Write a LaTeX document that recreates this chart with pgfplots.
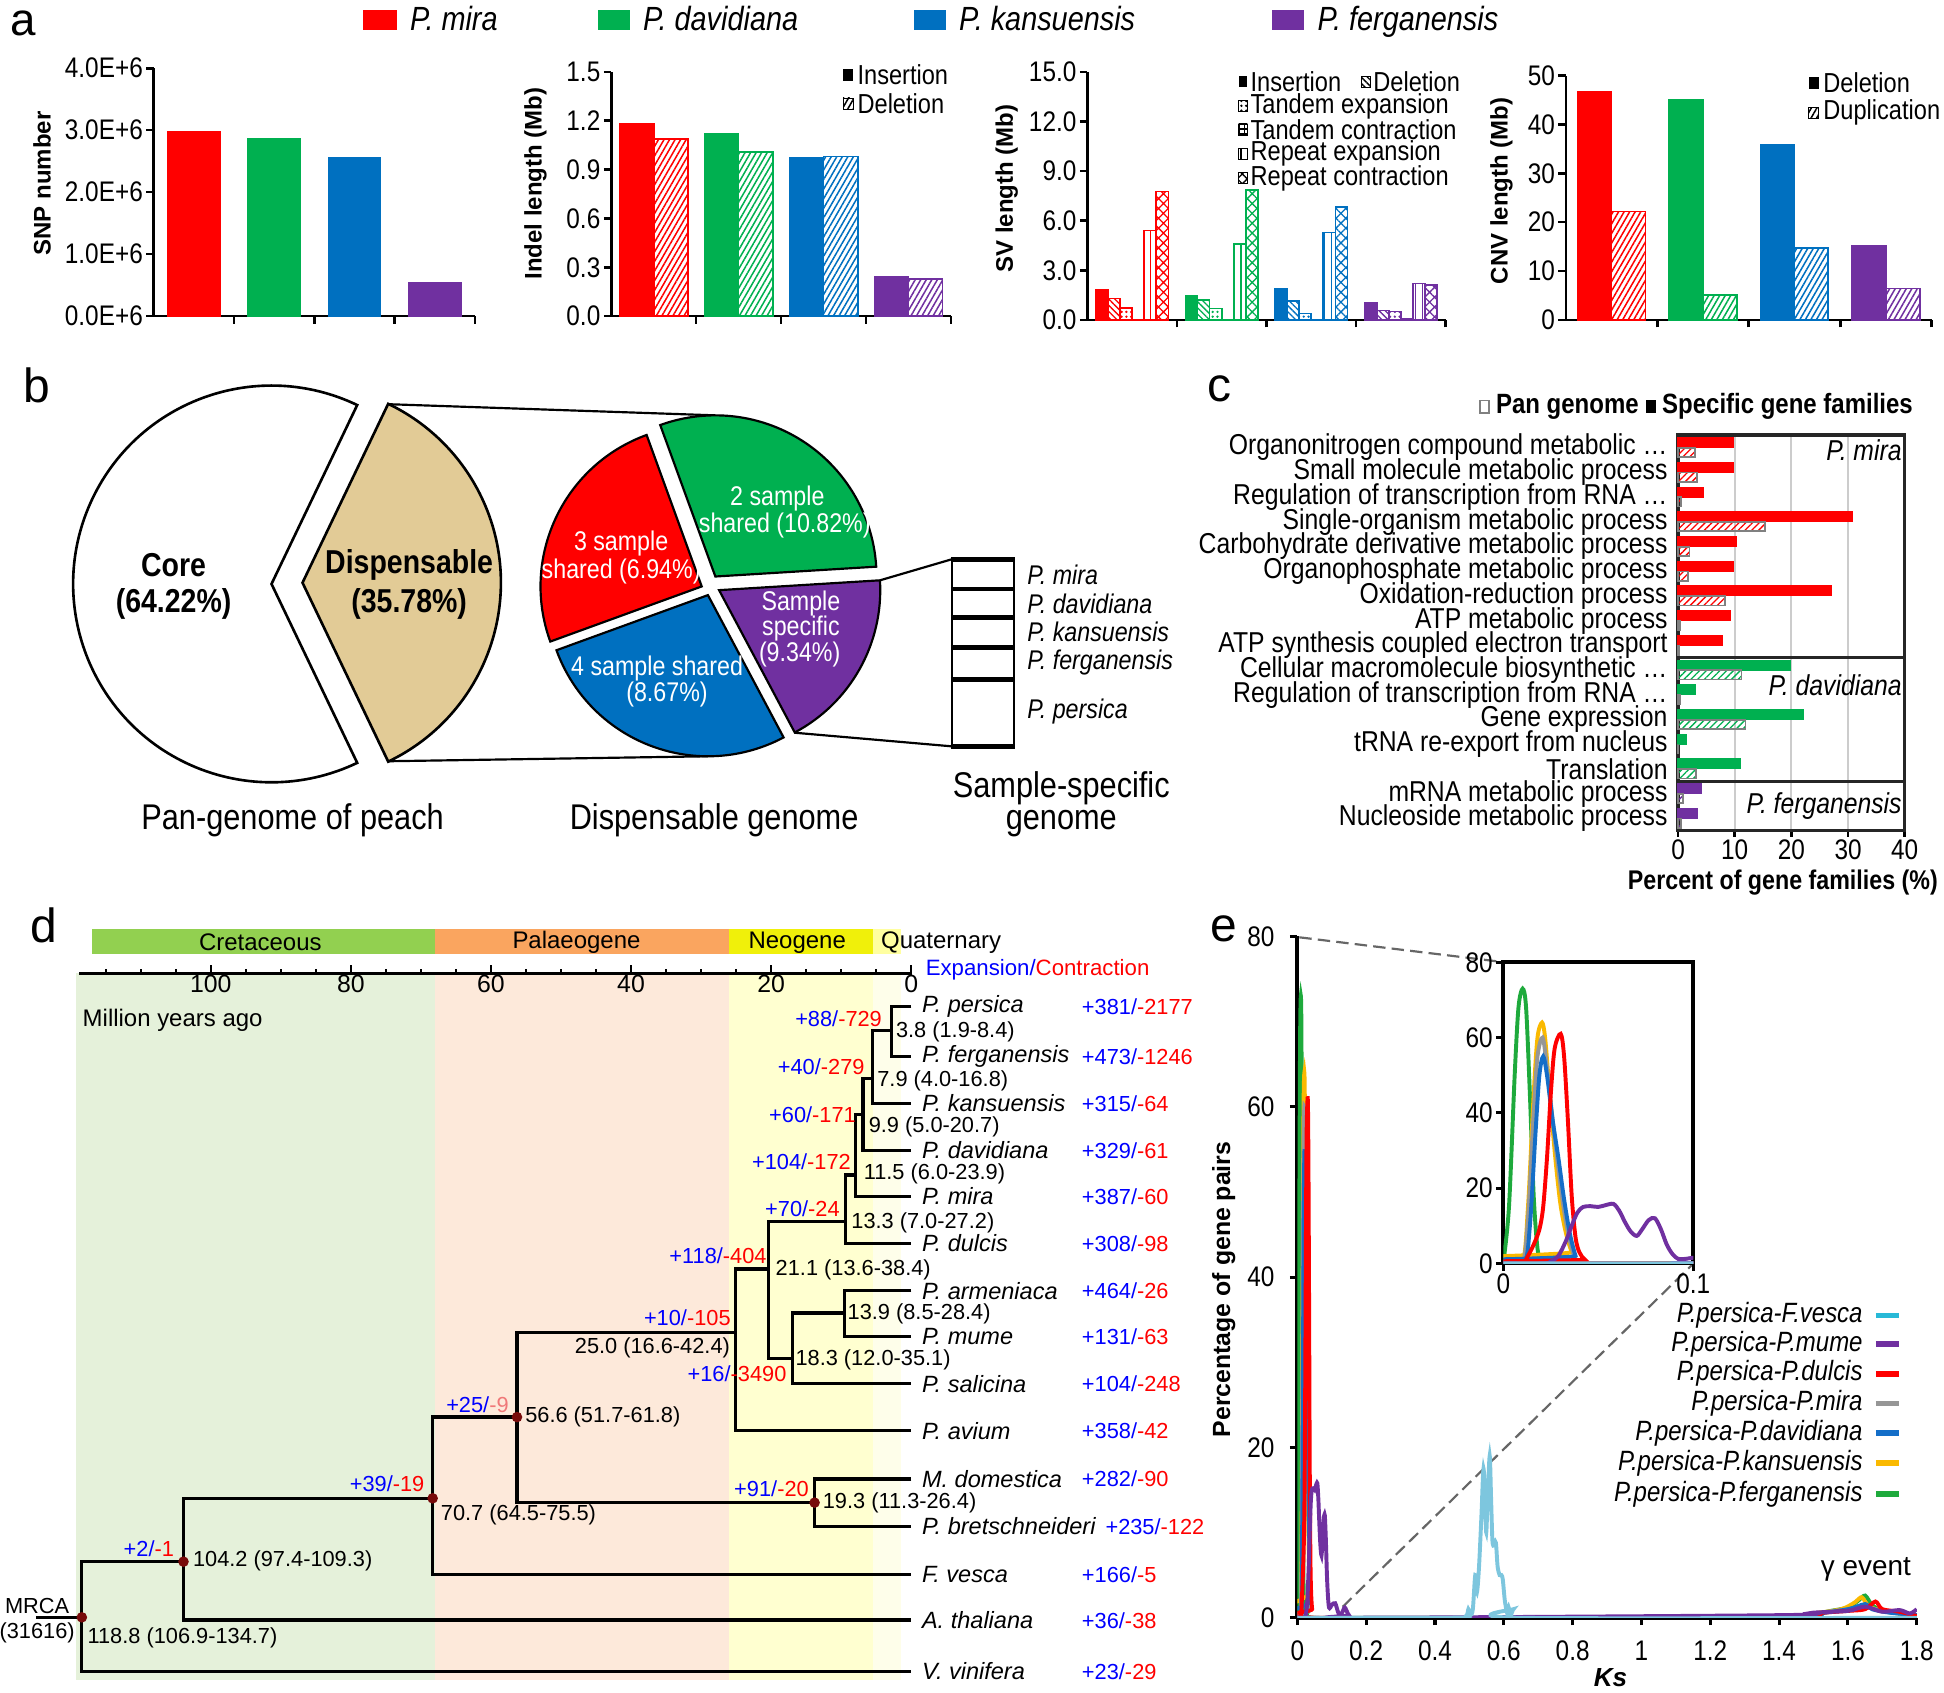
\documentclass[border=0pt]{standalone}
\usepackage{fontspec}
\setmainfont{Liberation Sans}
\newfontfamily\cf{Liberation Sans}[FakeStretch=0.86]
\usepackage{pgfplots}
\pgfplotsset{compat=1.18}
\usepackage{pgfplotstable}
\usetikzlibrary{patterns,patterns.meta}
\newcommand\fs[1]{\fontsize{#1}{#1}\selectfont}

\definecolor{cR}{RGB}{255,0,0}
\definecolor{cG}{RGB}{0,176,80}
\definecolor{cB}{RGB}{0,112,192}
\definecolor{cP}{RGB}{112,48,160}
\definecolor{cTan}{RGB}{226,203,150}
\definecolor{eC}{RGB}{125,198,222}
\definecolor{eCl}{RGB}{40,185,215}
\definecolor{eP}{RGB}{112,48,160}
\definecolor{eR}{RGB}{255,0,0}
\definecolor{eGr}{RGB}{150,150,150}
\definecolor{eB}{RGB}{20,110,200}
\definecolor{eO}{RGB}{250,185,0}
\definecolor{eG}{RGB}{30,170,60}
\definecolor{bgG}{RGB}{229,241,218}
\definecolor{bgO}{RGB}{253,233,218}
\definecolor{bgY}{RGB}{255,255,208}
\definecolor{bgQ}{RGB}{254,254,234}
\definecolor{gG}{RGB}{146,208,80}
\definecolor{gO}{RGB}{250,165,95}
\definecolor{gY}{RGB}{240,240,10}
\definecolor{gQ}{RGB}{255,255,160}
\definecolor{dotc}{RGB}{120,10,10}
\definecolor{tB}{RGB}{0,0,255}
\definecolor{tR}{RGB}{255,0,0}
\definecolor{tS}{RGB}{240,120,120}

\tikzset{
  patA/.style={pattern={Lines[angle=60,distance=1.1pt,line width=0.35pt]}},
  patDel/.style={pattern={Lines[angle=-45,distance=1.0pt,line width=0.3pt]}},
  patTE/.style={pattern={Dots[distance=1.1pt,radius=0.3pt]}},
  patTC/.style={pattern={Hatch[angle=0,distance=1.2pt,line width=0.3pt]}},
  patRE/.style={pattern={Lines[angle=90,distance=1.6pt,line width=0.35pt]}},
  patRC/.style={pattern={Hatch[angle=45,distance=1.6pt,line width=0.3pt]}},
  patC/.style={pattern={Lines[angle=45,distance=1.1pt,line width=0.3pt]}},
}

\pgfplotsset{
  every axis/.append style={/pgf/number format/assume math mode=true},
  abar/.style={scale only axis, axis x line*=bottom, axis y line*=left,
    axis line style={-,line width=0.6pt}, xmin=0.5, xmax=4.5, ymin=0,
    xtick={1.5,2.5,3.5,4.5}, xticklabels={,,,}, tick align=outside,
    major tick length=0.6mm, ybar, tick style={line width=0.6pt,black},
    ticklabel style={font=\cf\fs{6.5},inner sep=0.6pt}, clip=false},
}

% ---------- panel c data (specific, pan) ----------
\pgfplotstableread{
idx spec pan
0 9.7 3.0
1 9.7 3.4
2 4.5 0.5
3 30.8 15.3
4 10.3 2.0
5 9.7 1.7
6 27.0 8.3
7 9.1 0.3
8 7.8 0.1
}\tCmira
\pgfplotstableread{
idx spec pan
9 19.7 11.2
10 3.0 0.4
11 22.0 11.9
12 1.5 0.0
13 11.0 3.1
}\tCdav
\pgfplotstableread{
idx spec pan
14 4.0 0.9
15 3.3 0.5
}\tCfer

% ---------- panel e data ----------
\pgfplotstableread{
ks p
0 0
0.003 15
0.006 50
0.008 68
0.0102 73
0.012 68
0.014 45
0.016 18
0.018 4
0.020 1
0.024 0.6
0.028 1.8
0.031 2.0
0.034 1.0
0.038 0
0.2 0
1.4 0
1.5 0.4
1.55 0.8
1.6 1.2
1.63 2.0
1.65 2.6
1.67 1.5
1.7 0.8
1.75 0.5
1.8 0.3
}\tG
\pgfplotstableread{
ks p
0 0
0.010 0
0.013 15
0.016 45
0.018 60
0.0204 64
0.022 60
0.024 48
0.027 30
0.030 16
0.033 8
0.036 3
0.039 0
1.4 0
1.5 0.5
1.58 1.0
1.62 1.8
1.64 2.4
1.66 1.4
1.7 0.8
1.8 0.2
}\tO
\pgfplotstableread{
ks p
0 0
0.010 0
0.013 12
0.016 40
0.018 55
0.0207 60
0.023 52
0.026 38
0.029 25
0.032 14
0.035 6
0.038 1
0.040 0
1.4 0
1.5 0.5
1.6 1.0
1.64 1.3
1.68 1.0
1.75 0.6
1.8 0.3
}\tGr
\pgfplotstableread{
ks p
0 0
0.011 0
0.014 10
0.017 35
0.019 50
0.021 55
0.023 50
0.026 38
0.029 28
0.032 17
0.035 8
0.038 2
0.040 0
1.4 0
1.5 0.4
1.6 1.0
1.65 1.6
1.67 1.0
1.72 0.6
1.8 0.3
}\tB
\pgfplotstableread{
ks p
0 0
0.010 0
0.013 2
0.016 5
0.019 9
0.021 15
0.023 28
0.025 45
0.027 57
0.0302 61
0.032 55
0.034 38
0.036 18
0.038 7
0.040 3
0.043 1
0.048 0
1.4 0
1.5 0.5
1.6 0.8
1.65 1.0
1.68 1.9
1.7 1.0
1.75 0.7
1.8 0.2
}\tR
\pgfplotstableread{
ks p
0 0
0.021 0
0.025 0.5
0.029 2
0.033 6
0.036 10
0.039 13.5
0.042 15
0.046 15.2
0.050 15
0.054 15.5
0.058 15.8
0.061 14
0.064 11
0.067 8.5
0.0702 7.3
0.073 9
0.0765 11.5
0.0798 12
0.083 9
0.086 5
0.089 2.5
0.092 1.2
0.096 1.2
0.100 1.5
0.11 1.7
0.12 0.5
0.13 0.6
0.138 1.2
0.15 0.3
0.17 0
1.4 0.3
1.5 0.6
1.6 0.8
1.65 1.3
1.7 0.7
1.75 0.9
1.78 0.5
1.8 1.0
}\tP
\pgfplotstableread{
ks p
0 0
0.45 0
0.49 0.2
0.497 1.0
0.503 0.3
0.51 1.0
0.517 5
0.522 3
0.528 6
0.535 12
0.541 17.5
0.546 13
0.549 10
0.553 14
0.559 19
0.563 14
0.567 9
0.572 8.5
0.577 8.8
0.582 6
0.588 5
0.593 5
0.597 4.5
0.603 2
0.61 0.5
0.614 1.2
0.62 0.3
0.628 1
0.635 0
1.8 0
}\tC

\newcommand\svbars[8]{%
  \addplot[fill=#1,draw=#1,bar shift=-2.4375mm] coordinates {(#2,#3)};
  \addplot[draw=#1,patDel,pattern color=#1,bar shift=-1.4625mm] coordinates {(#2,#4)};
  \addplot[draw=#1,patTE,pattern color=#1,bar shift=-0.4875mm] coordinates {(#2,#5)};
  \addplot[draw=#1,patTC,pattern color=#1,bar shift=0.4875mm] coordinates {(#2,#6)};
  \addplot[draw=#1,patRE,pattern color=#1,bar shift=1.4625mm] coordinates {(#2,#7)};
  \addplot[draw=#1,patRC,pattern color=#1,bar shift=2.4375mm] coordinates {(#2,#8)};
}
\newcommand\ecurves{%
  \addplot[eG,line width=0.9pt,smooth,no markers] table[x=ks,y=p]{\tG};
  \addplot[eO,line width=0.9pt,smooth,no markers] table[x=ks,y=p]{\tO};
  \addplot[eGr,line width=0.9pt,smooth,no markers] table[x=ks,y=p]{\tGr};
  \addplot[eB,line width=0.9pt,smooth,no markers] table[x=ks,y=p]{\tB};
  \addplot[eR,line width=0.9pt,smooth,no markers] table[x=ks,y=p]{\tR};
  \addplot[eP,line width=0.9pt,smooth,no markers] table[x=ks,y=p]{\tP};
  \addplot[eC,line width=0.9pt,smooth,no markers] table[x=ks,y=p]{\tC};
}

\begin{document}
\begin{tikzpicture}
\useasboundingbox (0,0) rectangle (156.8mm,-136.5mm);

% ================= PANEL A =================
\begin{axis}[abar, at={(12.4mm,-25.5mm)}, anchor=south west, width=25.9mm, height=20mm,
  ymax=4000000, ytick={0,1000000,2000000,3000000,4000000},
  yticklabels={0.0E+6,1.0E+6,2.0E+6,3.0E+6,4.0E+6}, scaled y ticks=false, bar width=4.2mm]
\addplot[fill=cR,draw=cR,bar shift=0pt] coordinates {(1,2970000)};
\addplot[fill=cG,draw=cG,bar shift=0pt] coordinates {(2,2860000)};
\addplot[fill=cB,draw=cB,bar shift=0pt] coordinates {(3,2550000)};
\addplot[fill=cP,draw=cP,bar shift=0pt] coordinates {(4,530000)};
\end{axis}

\begin{axis}[abar, at={(49.3mm,-25.5mm)}, anchor=south west, width=27.4mm, height=19.7mm,
  ymax=1.5, ytick={0,0.3,0.6,0.9,1.2,1.5},
  yticklabel style={/pgf/number format/.cd,fixed,fixed zerofill,precision=1}, bar width=2.75mm]
\addplot[fill=cR,draw=cR,bar shift=-1.375mm] coordinates {(1,1.18)};
\addplot[draw=cR,patA,pattern color=cR,bar shift=1.375mm] coordinates {(1,1.09)};
\addplot[fill=cG,draw=cG,bar shift=-1.375mm] coordinates {(2,1.12)};
\addplot[draw=cG,patA,pattern color=cG,bar shift=1.375mm] coordinates {(2,1.01)};
\addplot[fill=cB,draw=cB,bar shift=-1.375mm] coordinates {(3,0.97)};
\addplot[draw=cB,patA,pattern color=cB,bar shift=1.375mm] coordinates {(3,0.98)};
\addplot[fill=cP,draw=cP,bar shift=-1.375mm] coordinates {(4,0.24)};
\addplot[draw=cP,patA,pattern color=cP,bar shift=1.375mm] coordinates {(4,0.23)};
\end{axis}

\begin{axis}[abar, at={(87.7mm,-25.8mm)}, anchor=south west, width=28.9mm, height=20.0mm,
  ymax=15, ytick={0,3,6,9,12,15},
  yticklabel style={/pgf/number format/.cd,fixed,fixed zerofill,precision=1}, bar width=0.975mm]
\svbars{cR}{1}{1.79}{1.29}{0.73}{0.02}{5.40}{7.76}
\svbars{cG}{2}{1.47}{1.19}{0.69}{0.02}{4.60}{7.86}
\svbars{cB}{3}{1.90}{1.13}{0.38}{0.02}{5.28}{6.85}
\svbars{cP}{4}{1.00}{0.56}{0.50}{0.06}{2.20}{2.12}
\end{axis}

\begin{axis}[abar, at={(126.3mm,-25.8mm)}, anchor=south west, width=29.5mm, height=19.7mm,
  ymax=50, ytick={0,10,20,30,40,50}, bar width=2.73mm]
\addplot[fill=cR,draw=cR,bar shift=-1.365mm] coordinates {(1,46.7)};
\addplot[draw=cR,patA,pattern color=cR,bar shift=1.365mm] coordinates {(1,22.2)};
\addplot[fill=cG,draw=cG,bar shift=-1.365mm] coordinates {(2,45.0)};
\addplot[draw=cG,patA,pattern color=cG,bar shift=1.365mm] coordinates {(2,5.1)};
\addplot[fill=cB,draw=cB,bar shift=-1.365mm] coordinates {(3,35.8)};
\addplot[draw=cB,patA,pattern color=cB,bar shift=1.365mm] coordinates {(3,14.7)};
\addplot[fill=cP,draw=cP,bar shift=-1.365mm] coordinates {(4,15.1)};
\addplot[draw=cP,patA,pattern color=cP,bar shift=1.365mm] coordinates {(4,6.4)};
\end{axis}

\begin{scope}[x=1mm,y=1mm]
\node[anchor=base west,inner sep=0pt,font=\fs{10.5}] at (0.8,-2.9) {a};
\fill[cR] (29.3,-0.8) rectangle (32.0,-2.4);
\node[anchor=base west,inner sep=0pt,font=\cf\itshape\fs{7.7}] at (33.0,-2.45) {P. mira};
\fill[cG] (48.2,-0.8) rectangle (50.8,-2.4);
\node[anchor=base west,inner sep=0pt,font=\cf\itshape\fs{7.7}] at (51.8,-2.45) {P. davidiana};
\fill[cB] (73.7,-0.8) rectangle (76.3,-2.4);
\node[anchor=base west,inner sep=0pt,font=\cf\itshape\fs{7.7}] at (77.3,-2.45) {P. kansuensis};
\fill[cP] (102.6,-0.8) rectangle (105.2,-2.4);
\node[anchor=base west,inner sep=0pt,font=\cf\itshape\fs{7.7}] at (106.2,-2.45) {P. ferganensis};

\node[rotate=90,font=\bfseries\fs{5.5}] at (3.4,-14.8) {SNP number};
\node[rotate=90,font=\bfseries\fs{5.5}] at (43.2,-14.8) {Indel length (Mb)};
\node[rotate=90,font=\bfseries\fs{5.5}] at (81.2,-15.2) {SV length (Mb)};
\node[rotate=90,font=\bfseries\fs{5.5}] at (121.1,-15.4) {CNV length (Mb)};

% indel legend
\fill[black] (68.0,-5.6) rectangle (68.8,-6.5);
\node[anchor=west,inner sep=0pt,font=\cf\fs{6.3}] at (69.1,-6.05) {Insertion};
\draw[black,line width=0.2pt,patA,pattern color=black] (68.0,-7.9) rectangle (68.8,-8.8);
\node[anchor=west,inner sep=0pt,font=\cf\fs{6.3}] at (69.1,-8.35) {Deletion};
% SV legend
\fill[black] (99.9,-6.15) rectangle (100.6,-7.05);
\node[anchor=west,inner sep=0pt,font=\cf\fs{6.3}] at (100.8,-6.6) {Insertion};
\draw[black,line width=0.2pt,patDel,pattern color=black] (109.8,-6.15) rectangle (110.5,-7.05);
\node[anchor=west,inner sep=0pt,font=\cf\fs{6.3}] at (110.7,-6.6) {Deletion};
\draw[black,line width=0.2pt,patTE,pattern color=black] (99.9,-8.1) rectangle (100.6,-9.0);
\node[anchor=west,inner sep=0pt,font=\cf\fs{6.3}] at (100.8,-8.55) {Tandem expansion};
\draw[black,line width=0.2pt,patTC,pattern color=black] (99.9,-10.0) rectangle (100.6,-10.9);
\node[anchor=west,inner sep=0pt,font=\cf\fs{6.3}] at (100.8,-10.45) {Tandem contraction};
\draw[black,line width=0.2pt,patRE,pattern color=black] (99.9,-11.95) rectangle (100.6,-12.85);
\node[anchor=west,inner sep=0pt,font=\cf\fs{6.3}] at (100.8,-12.4) {Repeat expansion};
\draw[black,line width=0.2pt,patRC,pattern color=black] (99.9,-13.9) rectangle (100.6,-14.8);
\node[anchor=west,inner sep=0pt,font=\cf\fs{6.3}] at (100.8,-14.35) {Repeat contraction};
% CNV legend
\fill[black] (145.9,-6.25) rectangle (146.7,-7.15);
\node[anchor=west,inner sep=0pt,font=\cf\fs{6.3}] at (147.0,-6.7) {Deletion};
\draw[black,line width=0.2pt,patA,pattern color=black] (145.9,-8.65) rectangle (146.7,-9.55);
\node[anchor=west,inner sep=0pt,font=\cf\fs{6.3}] at (147.0,-9.1) {Duplication};

% ================= PANEL B =================
\node[anchor=base west,inner sep=0pt,font=\fs{11}] at (1.8,-32.5) {b};
\filldraw[fill=white,draw=black,line width=0.6pt] (21.9,-47.1) -- ++({35.78*1.8}:16)
   arc[start angle={35.78*1.8},end angle={360-35.78*1.8},radius=16] -- cycle;
\filldraw[fill=cTan,draw=black,line width=0.6pt] (24.4,-47.0) -- ++({-35.78*1.8}:16)
   arc[start angle={-35.78*1.8},end angle={35.78*1.8},radius=16] -- cycle;
\node[font=\cf\bfseries\fs{7.6}] at (14.0,-45.6) {Core};
\node[font=\cf\bfseries\fs{7.6}] at (14.0,-48.7) {(64.22\%)};
\node[font=\cf\bfseries\fs{7.6}] at (33.0,-45.6) {Dispensable};
\node[font=\cf\bfseries\fs{7.6}] at (33.0,-48.7) {(35.78\%)};
% connectors
\draw[line width=0.5pt] (31.3,-32.6) -- (57.7,-33.5);
\draw[line width=0.5pt] (31.3,-61.4) -- (57.1,-61.0);
% dispensable pie
\filldraw[fill=cG,draw=black,line width=0.5pt] (57.7,-46.5) -- ++(3.5:13) arc[start angle=3.5,end angle=110,radius=13] -- cycle;
\filldraw[fill=cR,draw=black,line width=0.5pt] (56.6,-47.3) -- ++(110:13) arc[start angle=110,end angle=200,radius=13] -- cycle;
\filldraw[fill=cB,draw=black,line width=0.5pt] (57.1,-48.0) -- ++(200:13) arc[start angle=200,end angle=298,radius=13] -- cycle;
\filldraw[fill=cP,draw=black,line width=0.5pt] (58.0,-47.6) -- ++(298:13) arc[start angle=298,end angle=363.5,radius=13] -- cycle;
\node[white,font=\cf\fs{6.2}] at (50.1,-43.8) {3 sample};
\node[white,font=\cf\fs{6.2}] at (50.1,-46.1) {shared (6.94\%)};
\node[white,font=\cf\fs{6.2}] at (62.7,-40.2) {2 sample};
\node[white,font=\cf\fs{6.2}] at (63.3,-42.4) {shared (10.82\%)};
\node[white,font=\cf\fs{6.2}] at (64.6,-48.7) {Sample};
\node[white,font=\cf\fs{6.2}] at (64.6,-50.7) {specific};
\node[white,font=\cf\fs{6.2}] at (64.5,-52.8) {(9.34\%)};
\node[white,font=\cf\fs{6.2}] at (53.0,-53.9) {4 sample shared};
\node[white,font=\cf\fs{6.2}] at (53.8,-56.0) {(8.67\%)};
% to box
\draw[line width=0.5pt] (71.0,-46.8) -- (76.8,-45.1);
\draw[line width=0.5pt] (64.1,-59.1) -- (76.8,-60.2);
\draw[line width=0.6pt] (76.8,-45.1) -- (76.8,-60.2);
\draw[line width=0.6pt] (81.8,-45.1) -- (81.8,-60.2);
\foreach \yy in {45.1,47.5,49.8,52.2,54.8,60.2} \draw[line width=1.1pt] (76.7,-\yy) -- (81.9,-\yy);
\node[anchor=west,inner sep=0pt,font=\cf\itshape\fs{6.2}] at (82.8,-46.4) {P. mira};
\node[anchor=west,inner sep=0pt,font=\cf\itshape\fs{6.2}] at (82.8,-48.7) {P. davidiana};
\node[anchor=west,inner sep=0pt,font=\cf\itshape\fs{6.2}] at (82.8,-51.0) {P. kansuensis};
\node[anchor=west,inner sep=0pt,font=\cf\itshape\fs{6.2}] at (82.8,-53.4) {P. ferganensis};
\node[anchor=west,inner sep=0pt,font=\cf\itshape\fs{6.2}] at (82.8,-57.4) {P. persica};
\node[anchor=base,inner sep=0pt,font=\cf\fs{8.2}] at (23.6,-66.9) {Pan-genome of peach};
\node[anchor=base,inner sep=0pt,font=\cf\fs{8.2}] at (57.6,-66.9) {Dispensable genome};
\node[anchor=base,inner sep=0pt,align=center,font=\cf\fontsize{8.2}{7.3}\selectfont] at (85.6,-66.9) {Sample-specific\\genome};

% ================= PANEL C labels =================
\node[anchor=base west,inner sep=0pt,font=\fs{11}] at (97.3,-32.4) {c};
\draw[gray,line width=0.4pt] (119.35,-32.3) rectangle (120.1,-33.3);
\node[anchor=west,inner sep=0pt,font=\cf\bfseries\fs{6.4}] at (120.6,-32.8) {Pan genome};
\fill[black] (132.8,-32.3) rectangle (133.6,-33.3);
\node[anchor=west,inner sep=0pt,font=\cf\bfseries\fs{6.4}] at (134.0,-32.8) {Specific gene families};
\node[font=\cf\bfseries\fs{6.2}] at (143.8,-71.2) {Percent of gene families (\%)};
\end{scope}

% ================= PANEL C axis =================
\begin{axis}[at={(135.35mm,-67.0mm)}, anchor=south west, scale only axis,
  width=18.28mm, height=31.9mm, xmin=0, xmax=40, ymin=-0.5, ymax=15.5, y dir=reverse,
  xbar, bar width=0.75mm, xtick={0,10,20,30,40}, xtick pos=left,
  ytick={0,...,15}, ytick style={draw=none},
  yticklabels={{Organonitrogen compound metabolic …},{Small molecule metabolic process},
   {Regulation of transcription from RNA …},{Single-organism metabolic process},
   {Carbohydrate derivative metabolic process},{Organophosphate metabolic process},
   {Oxidation-reduction process},{ATP metabolic process},{ATP synthesis coupled electron transport},
   {Cellular macromolecule biosynthetic …},{Regulation of transcription from RNA …},
   {Gene expression},{tRNA re-export from nucleus},{Translation},
   {mRNA metabolic process},{Nucleoside metabolic process}},
  tick align=outside, major tick length=0.5mm, xtick style={line width=0.6pt,black},
  xmajorgrids, grid style={gray!40,line width=0.5pt},
  axis line style={line width=0.8pt,black!85},
  xticklabel style={font=\cf\fs{6.5},inner sep=0.4pt}, yticklabel style={font=\cf\fs{6.6},inner sep=0.8pt},
  clip=false]
\addplot[fill=cR,draw=cR,bar shift=0pt] table[x=spec,y expr=\thisrow{idx}-0.2]{\tCmira};
\addplot[draw=gray,patC,pattern color=cR,bar shift=0pt] table[x=pan,y expr=\thisrow{idx}+0.2]{\tCmira};
\addplot[fill=cG,draw=cG,bar shift=0pt] table[x=spec,y expr=\thisrow{idx}-0.2]{\tCdav};
\addplot[draw=gray,patC,pattern color=cG,bar shift=0pt] table[x=pan,y expr=\thisrow{idx}+0.2]{\tCdav};
\addplot[fill=cP,draw=cP,bar shift=0pt] table[x=spec,y expr=\thisrow{idx}-0.2]{\tCfer};
\addplot[draw=gray,patC,pattern color=cP,bar shift=0pt] table[x=pan,y expr=\thisrow{idx}+0.2]{\tCfer};
\draw[line width=0.8pt,black!85] (axis cs:0,8.5) -- (axis cs:40,8.5);
\draw[line width=0.8pt,black!85] (axis cs:0,13.5) -- (axis cs:40,13.5);
\node[anchor=east,inner sep=0pt,font=\cf\itshape\fs{6.6}] at (axis cs:39.6,0.1) {P. mira};
\node[anchor=east,inner sep=0pt,font=\cf\itshape\fs{6.6}] at (axis cs:39.6,9.6) {P. davidiana};
\node[anchor=east,inner sep=0pt,font=\cf\itshape\fs{6.6}] at (axis cs:39.6,14.5) {P. ferganensis};
\end{axis}

% ================= PANEL D =================
\begin{axis}[at={(6.1mm,-74.8mm)}, anchor=north west, scale only axis, width=67.4mm, height=61.0mm,
  xmin=0, xmax=119.29, x dir=reverse, ymin=748, ymax=1358, y dir=reverse, hide axis, clip=false]
\fill[bgG] (axis cs:119.29,784.5) rectangle (axis cs:67.96,1355);
\fill[bgO] (axis cs:67.96,784.5) rectangle (axis cs:26.0,1355);
\fill[bgY] (axis cs:26.0,784.5) rectangle (axis cs:5.49,1355);
\fill[bgQ] (axis cs:5.49,784.5) rectangle (axis cs:1.42,1355);
\fill[gG] (axis cs:117.0,749.5) rectangle (axis cs:67.96,769.7);
\fill[gO] (axis cs:67.96,749.5) rectangle (axis cs:26.0,769.7);
\fill[gY] (axis cs:26.0,749.5) rectangle (axis cs:5.49,769.7);
\fill[gQ] (axis cs:5.49,749.5) rectangle (axis cs:1.42,769.7);
\node[font=\fs{5.5}] at (axis cs:92.92,760) {Cretaceous};
\node[font=\fs{5.5}] at (axis cs:47.79,760) {Palaeogene};
\node[font=\fs{5.5}] at (axis cs:16.28,760) {Neogene};
\node[anchor=west,inner sep=0pt,font=\fs{5.5}] at (axis cs:4.42,760) {Quaternary};
\node[anchor=west,inner sep=0pt,font=\fs{5.5}] at (axis cs:118.4,823) {Million years ago};
\node[anchor=west,inner sep=0pt,font=\fs{5.1}] at (axis cs:-1.95,782) {\textcolor{tB}{Expansion/}\textcolor{tR}{Contraction}};
% tree
\addplot[black,line width=0.75pt] coordinates {(0,812) (2.83,812) (2.83,852) (0,852)};
\addplot[black,line width=0.75pt] coordinates {(2.83,831) (5.49,831) (5.49,890) (0,890)};
\addplot[black,line width=0.75pt] coordinates {(5.49,869.6) (6.9,869.6) (6.9,928) (0,928)};
\addplot[black,line width=0.75pt] coordinates {(6.9,899) (7.96,899) (7.96,965) (0,965)};
\addplot[black,line width=0.75pt] coordinates {(7.96,947.8) (9.38,947.8) (9.38,1003) (0,1003)};
\addplot[black,line width=0.75pt] coordinates {(0,1041) (9.56,1041) (9.56,1078) (0,1078)};
\addplot[black,line width=0.75pt] coordinates {(9.56,1059) (16.99,1059) (16.99,1116) (0,1116)};
\addplot[black,line width=0.75pt] coordinates {(9.38,985.4) (20.35,985.4) (20.35,1095.6) (16.99,1095.6)};
\addplot[black,line width=0.75pt] coordinates {(20.35,1023.5) (25.13,1023.5) (25.13,1154) (0,1154)};
\addplot[black,line width=0.75pt] coordinates {(0,1193) (13.8,1193) (13.8,1231) (0,1231)};
\addplot[black,line width=0.75pt] coordinates {(25.13,1074.6) (56.28,1074.6) (56.28,1212) (13.8,1212)};
\addplot[black,line width=0.75pt] coordinates {(56.28,1143) (68.32,1143) (68.32,1270) (0,1270)};
\addplot[black,line width=0.75pt] coordinates {(68.32,1208.5) (103.89,1208.5) (103.89,1306.7) (0,1306.7)};
\addplot[black,line width=0.75pt] coordinates {(103.89,1259.6) (118.4,1259.6) (118.4,1348) (0,1348)};
\addplot[black,line width=0.75pt] coordinates {(124.96,1304.5) (118.4,1304.5)};
\addplot[only marks,mark=*,mark size=1pt,color=dotc] coordinates {(56.28,1143) (68.32,1208.5) (13.8,1212) (103.89,1259.6) (118.4,1304.5)};
% node labels
\node[anchor=west,inner sep=0pt,font=\fs{5.0}] at (axis cs:2.30,832) {3.8 (1.9-8.4)};
\node[anchor=west,inner sep=0pt,font=\fs{5.0}] at (axis cs:4.96,872) {7.9 (4.0-16.8)};
\node[anchor=west,inner sep=0pt,font=\fs{5.0}] at (axis cs:6.19,909) {9.9 (5.0-20.7)};
\node[anchor=west,inner sep=0pt,font=\fs{5.0}] at (axis cs:6.90,947) {11.5 (6.0-23.9)};
\node[anchor=west,inner sep=0pt,font=\fs{5.0}] at (axis cs:8.67,986) {13.3 (7.0-27.2)};
\node[anchor=west,inner sep=0pt,font=\fs{5.0}] at (axis cs:19.47,1024) {21.1 (13.6-38.4)};
\node[anchor=west,inner sep=0pt,font=\fs{5.0}] at (axis cs:48.14,1087) {25.0 (16.6-42.4)};
\node[anchor=west,inner sep=0pt,font=\fs{5.0}] at (axis cs:9.20,1060) {13.9 (8.5-28.4)};
\node[anchor=west,inner sep=0pt,font=\fs{5.0}] at (axis cs:16.64,1097) {18.3 (12.0-35.1)};
\node[anchor=west,inner sep=0pt,font=\fs{5.0}] at (axis cs:55.22,1143) {56.6 (51.7-61.8)};
\node[anchor=west,inner sep=0pt,font=\fs{5.0}] at (axis cs:67.26,1222) {70.7 (64.5-75.5)};
\node[anchor=west,inner sep=0pt,font=\fs{5.0}] at (axis cs:12.74,1212) {19.3 (11.3-26.4)};
\node[anchor=west,inner sep=0pt,font=\fs{5.0}] at (axis cs:102.65,1259) {104.2 (97.4-109.3)};
\node[anchor=west,inner sep=0pt,font=\fs{5.0}] at (axis cs:117.70,1321) {118.8 (106.9-134.7)};
\node[anchor=east,inner sep=0pt,font=\fs{5.0}] at (axis cs:4.07,822) {\textcolor{tB}{+88/}\textcolor{tR}{-729}};
\node[anchor=east,inner sep=0pt,font=\fs{5.0}] at (axis cs:6.55,860) {\textcolor{tB}{+40/}\textcolor{tR}{-279}};
\node[anchor=east,inner sep=0pt,font=\fs{5.0}] at (axis cs:7.79,899) {\textcolor{tB}{+60/}\textcolor{tR}{-171}};
\node[anchor=east,inner sep=0pt,font=\fs{5.0}] at (axis cs:8.50,937) {\textcolor{tB}{+104/}\textcolor{tR}{-172}};
\node[anchor=east,inner sep=0pt,font=\fs{5.0}] at (axis cs:10.09,975) {\textcolor{tB}{+70/}\textcolor{tR}{-24}};
\node[anchor=east,inner sep=0pt,font=\fs{5.0}] at (axis cs:20.53,1013) {\textcolor{tB}{+118/}\textcolor{tR}{-404}};
\node[anchor=east,inner sep=0pt,font=\fs{5.0}] at (axis cs:25.66,1063) {\textcolor{tB}{+10/}\textcolor{tR}{-105}};
\node[anchor=east,inner sep=0pt,font=\fs{5.0}] at (axis cs:17.70,1108) {\textcolor{tB}{+16/}\textcolor{tR}{-3490}};
\node[anchor=east,inner sep=0pt,font=\fs{5.0}] at (axis cs:57.35,1133) {\textcolor{tB}{+25/}\textcolor{tS}{-9}};
\node[anchor=east,inner sep=0pt,font=\fs{5.0}] at (axis cs:69.38,1197) {\textcolor{tB}{+39/}\textcolor{tR}{-19}};
\node[anchor=east,inner sep=0pt,font=\fs{5.0}] at (axis cs:14.51,1201) {\textcolor{tB}{+91/}\textcolor{tR}{-20}};
\node[anchor=east,inner sep=0pt,font=\fs{5.0}] at (axis cs:105.13,1249) {\textcolor{tB}{+2/}\textcolor{tR}{-1}};
\node[font=\fs{5.0}] at (axis cs:124.78,1295) {MRCA};
\node[font=\fs{5.0}] at (axis cs:124.78,1317) {(31616)};
\end{axis}

% time axis
\begin{axis}[at={(6.4mm,-78.5mm)}, anchor=south west, scale only axis, width=67.2mm, height=1mm,
  xmin=-0.18, xmax=118.76, x dir=reverse, ymin=0, ymax=1, hide y axis, axis x line*=bottom,
  axis line style={-,line width=0.7pt}, xtick={0,20,40,60,80,100}, minor xtick={5,10,15,25,30,35,45,50,55,65,70,75,85,90,95,105,110,115},
  tick align=inside, major tick length=0.7mm, minor tick length=0.35mm,
  tick style={line width=0.5pt,black}, xticklabel style={font=\fs{5.7},inner sep=0.2pt}]
\addplot[draw=none] coordinates {(0,0)};
\end{axis}

\begin{scope}[x=1mm,y=1mm]
\node[anchor=base west,inner sep=0pt,font=\fs{11}] at (2.4,-76.0) {d};
% leaves of the tree
\foreach \nm/\yy/\pl/\mi in {P. persica/81.2/+381/-2177, P. ferganensis/85.2/+473/-1246,
  P. kansuensis/89.0/+315/-64, P. davidiana/92.8/+329/-61, P. mira/96.5/+387/-60,
  P. dulcis/100.3/+308/-98, P. armeniaca/104.1/+464/-26, P. mume/107.8/+131/-63,
  P. salicina/111.6/+104/-248, P. avium/115.4/+358/-42, M. domestica/119.3/+282/-90,
  F. vesca/127.0/+166/-5, A. thaliana/130.7/+36/-38, V. vinifera/134.8/+23/-29}{
  \node[anchor=west,inner sep=0pt,font=\itshape\fs{5.4}] at (74.3,-\yy) {\nm};
  \node[anchor=west,inner sep=0pt,font=\fs{5.0}] at (87.2,-\yy) {\textcolor{tB}{\pl/}\textcolor{tR}{\mi}};
}
\node[anchor=west,inner sep=0pt,font=\itshape\fs{5.4}] at (74.3,-123.1) {P. bretschneideri};
\node[anchor=west,inner sep=0pt,font=\fs{5.0}] at (89.1,-123.1) {\textcolor{tB}{+235/}\textcolor{tR}{-122}};

\node[anchor=base west,inner sep=0pt,font=\fs{11}] at (97.6,-75.9) {e};
\node[rotate=90,font=\bfseries\fs{5.7}] at (98.7,-104.0) {Percentage of gene pairs};
\node[font=\bfseries\itshape\fs{6.0}] at (129.9,-135.3) {Ks};
\node[font=\fs{6.4}] at (150.5,-126.6) {γ event};
\draw[gray!80!black,line width=0.5pt,dash pattern=on 1mm off 0.5mm] (104.8,-75.6) -- (121.25,-77.6);
\draw[gray!80!black,line width=0.5pt,dash pattern=on 1mm off 0.5mm] (108.3,-129.6) -- (136.6,-101.9);
\foreach \lab/\col/\yy in {P.persica-F.vesca/eCl/106.1, P.persica-P.mume/eP/108.4,
  P.persica-P.dulcis/eR/110.8, P.persica-P.mira/eGr/113.2, P.persica-P.davidiana/eB/115.6,
  P.persica-P.kansuensis/eO/118.0, P.persica-P.ferganensis/eG/120.5}{
  \node[anchor=east,inner sep=0pt,font=\cf\itshape\fs{6.4}] at (150.3,-\yy) {\lab};
  \draw[\col,line width=1.3pt] (151.3,-\yy) -- (153.2,-\yy);
}
\end{scope}

% ================= PANEL E =================
\begin{axis}[at={(104.64mm,-130.48mm)}, anchor=south west, scale only axis, width=49.96mm, height=54.96mm,
  xmin=0, xmax=1.8, ymin=0, ymax=80, axis x line*=bottom, axis y line*=left,
  axis line style={-,line width=0.9pt}, tick style={line width=0.7pt,black}, tick align=outside,
  major tick length=0.6mm, xtick={0,0.2,0.4,0.6,0.8,1,1.2,1.4,1.6,1.8}, ytick={0,20,40,60,80},
  ticklabel style={font=\cf\fs{6.5}}]
\ecurves
\end{axis}

\begin{axis}[at={(121.25mm,-101.9mm)}, anchor=south west, scale only axis, width=15.33mm, height=24.28mm,
  xmin=0, xmax=0.1, ymin=0, ymax=80, axis background/.style={fill=white},
  axis line style={line width=0.9pt}, tick style={line width=0.7pt,black}, tick align=outside,
  major tick length=0.6mm, xtick={0,0.1}, xticklabels={0,0.1}, ytick={0,20,40,60,80},
  xtick pos=left, ytick pos=left, ticklabel style={font=\cf\fs{6.5},inner sep=0.5pt}]
\ecurves
\end{axis}
\end{tikzpicture}
\end{document}
